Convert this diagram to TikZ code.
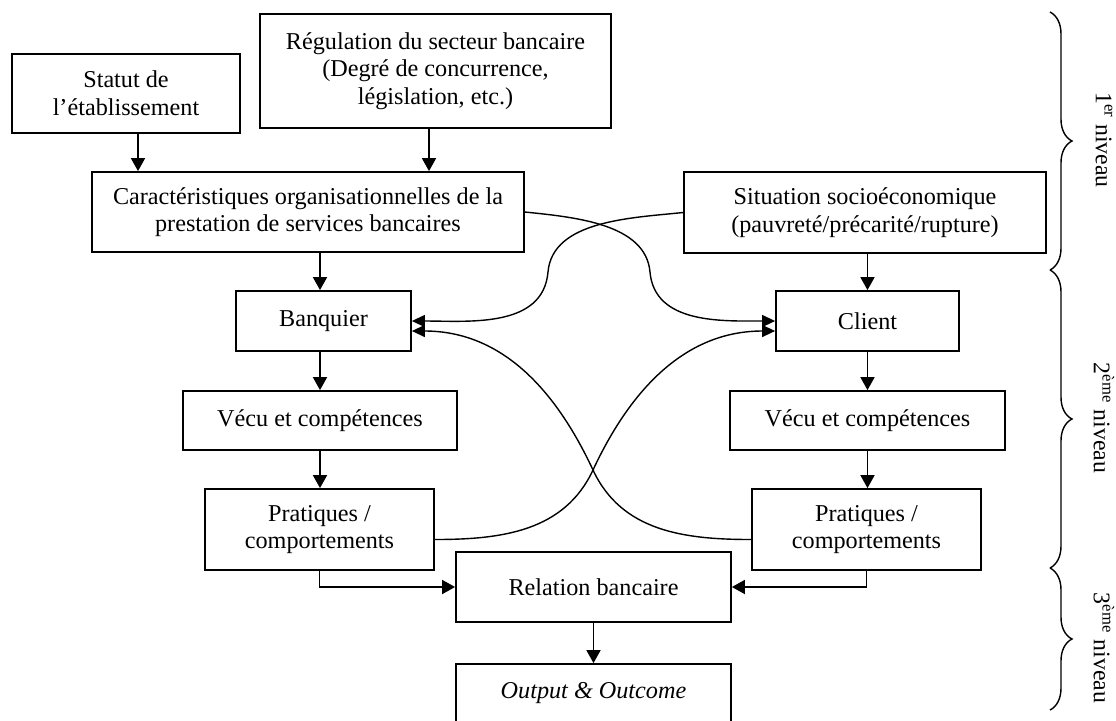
\documentclass[tikz,border=0pt]{standalone}
\usepackage{fontspec}
\setmainfont{Liberation Serif}
\usetikzlibrary{arrows.meta,decorations.pathreplacing}

\begin{document}
\begin{tikzpicture}[x=0.5pt,y=0.5pt,
  box/.style={draw,line width=0.9pt,inner sep=0pt,align=center,
    font=\fontsize{12.1}{13.8}\selectfont},
  arr/.style={line width=0.9pt,-{Triangle[length=6.5pt,width=7pt]}},
  carr/.style={line width=0.7pt,-{Triangle[length=6.5pt,width=6pt]}},
  lvl/.style={rotate=-90,font=\fontsize{11.9}{13.8}\selectfont,inner sep=0pt},
  bracket/.style={line width=0.7pt,decorate,
    decoration={brace,amplitude=11pt,aspect=0.5}}]

\useasboundingbox (0,0) rectangle (1116,-720);

% first level
\node[box,minimum width=114pt,minimum height=39.5pt] (stat) at (126,-93.5)
  {Statut de\\l’établissement};
\node[box,minimum width=175.5pt,minimum height=57pt] (reg) at (435.5,-71)
  {Régulation du secteur bancaire\\(Degré de concurrence,\\législation, etc.)};
\node[box,minimum width=216pt,minimum height=40pt] (carac) at (308,-212)
  {Caractéristiques organisationnelles de la\\prestation de services bancaires};
\node[box,minimum width=181pt,minimum height=40.5pt] (situ) at (865,-212.5)
  {Situation socioéconomique\\(pauvreté/précarité/rupture)};

% second level
\node[box,minimum width=87.5pt,minimum height=30pt] (banq) at (323.5,-321) {Banquier};
\node[box,minimum width=91.5pt,minimum height=30pt] (client) at (867.5,-321) {Client};
\node[box,minimum width=137pt,minimum height=29.5pt] (vecL) at (320,-420.5) {Vécu et compétences};
\node[box,minimum width=137.5pt,minimum height=29.5pt] (vecR) at (867.5,-420.5) {Vécu et compétences};
\node[box,minimum width=114.5pt,minimum height=40.5pt] (praL) at (319.5,-529.5)
  {Pratiques /\\comportements};
\node[box,minimum width=114.5pt,minimum height=40.5pt] (praR) at (866.5,-529.5)
  {Pratiques /\\comportements};

% third level
\node[box,minimum width=137.5pt,minimum height=35pt] (rel) at (593.5,-587) {Relation bancaire};
\node[box,minimum width=137.5pt,minimum height=29pt] (out) at (593.5,-693)
  {\itshape Output \& Outcome};

% straight connectors
\draw[arr] ([xshift=6pt]stat.south) -- ([xshift=6pt]stat.south |- carac.north);
\draw[arr] ([xshift=-3.25pt]reg.south) -- ([xshift=-3.25pt]reg.south |- carac.north);
\draw[arr] ([xshift=6pt]carac.south) -- ([xshift=6pt]carac.south |- banq.north);
\draw[arr] (client.north |- situ.south) -- (client.north);
\draw[arr] (vecL.north |- banq.south) -- (vecL.north);
\draw[arr] (vecL.south) -- (vecL.south |- praL.north);
\draw[arr] (client.south) -- (client.south |- vecR.north);
\draw[arr] (vecR.south) -- (vecR.south |- praR.north);
\draw[arr] (praL.south) |- (rel.west);
\draw[arr] (praR.south) |- (rel.east);
\draw[arr] (rel.south) -- (out.north);

% crossing curved influences
\coordinate (kC) at (650,-272);
\coordinate (kD) at (548,-272);
\coordinate (kX) at (593,-470);
\draw[carr] (carac.east) to[out=-6,in=95,looseness=0.9] (kC)
  to[out=-85,in=180] (client.west);
\draw[carr] (situ.west) to[out=186,in=85,looseness=0.9] (kD)
  to[out=-95,in=0] (banq.east);
\draw[carr] ([yshift=-5pt]praL.east) to[out=0,in=-115] (kX)
  to[out=65,in=180] ([yshift=-5pt]client.west);
\draw[carr] ([yshift=-5pt]praR.west) to[out=180,in=-65] (kX)
  to[out=115,in=0] ([yshift=-5pt]banq.east);

% level braces
\draw[bracket] (1050,-12) -- (1050,-270);
\draw[bracket] (1050,-270) -- (1050,-568);
\draw[bracket] (1050,-568) -- (1050,-710);
\node[lvl] (lvlA) at (1104,-140) {1\textsuperscript{er} niveau};
\node[lvl] (lvlB) at (1104,-418) {2\textsuperscript{ème} niveau};
\node[lvl] (lvlC) at (1104,-648) {3\textsuperscript{ème} niveau};
\end{tikzpicture}
\end{document}
